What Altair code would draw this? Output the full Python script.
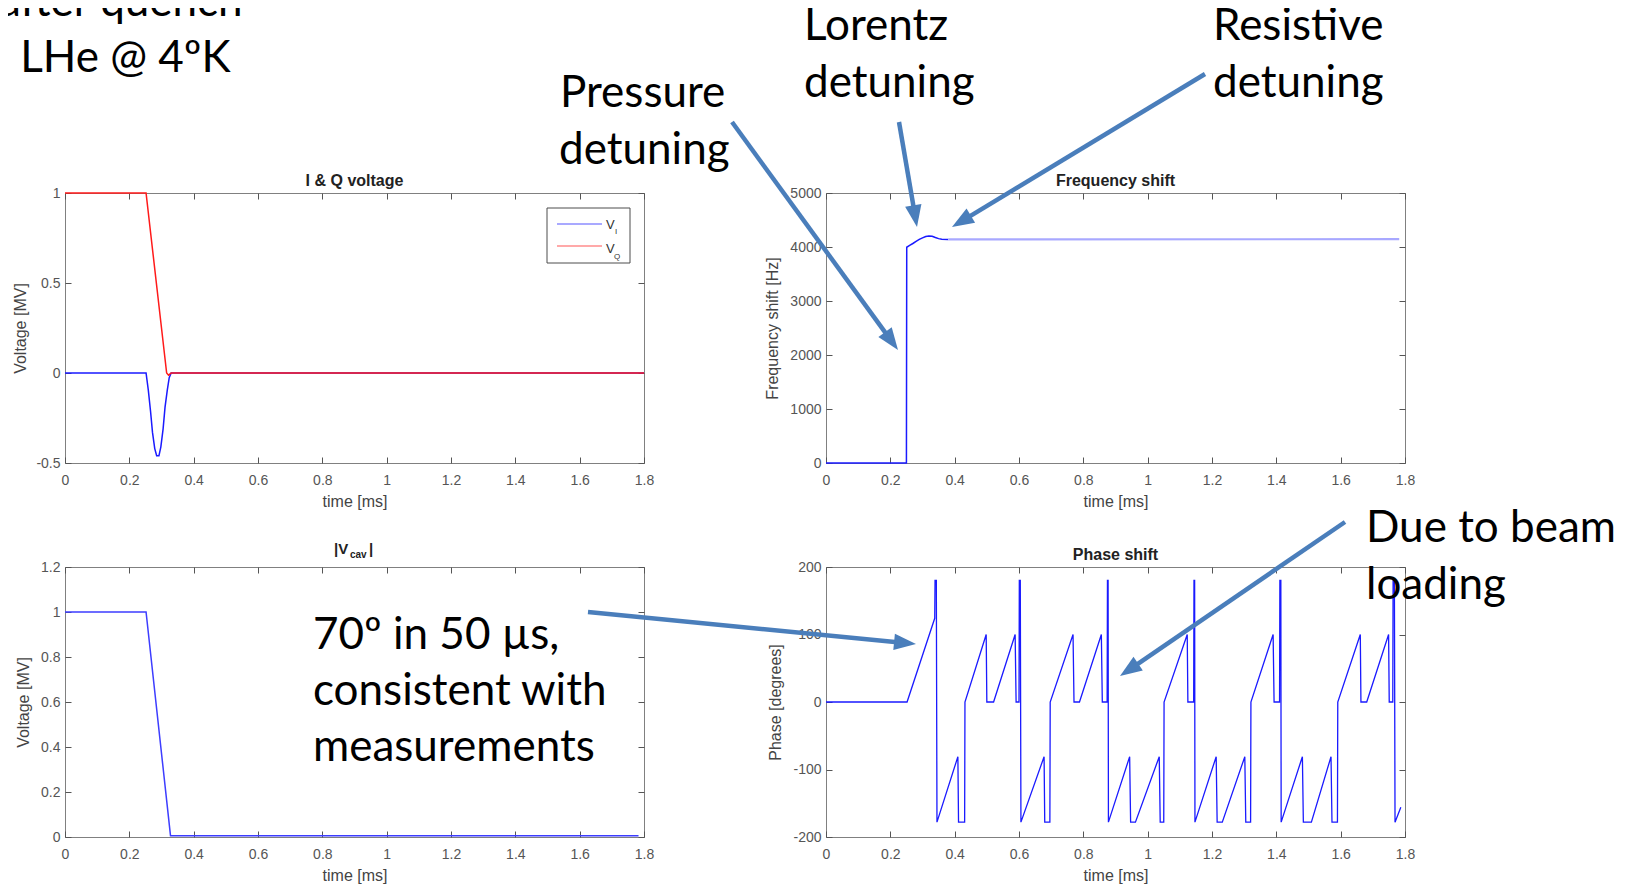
import math
import altair as alt
import pandas as pd

# ---------------- values ----------------
time_ticks = [0, 0.2, 0.4, 0.6, 0.8, 1.0, 1.2, 1.4, 1.6, 1.8]

# I & Q voltage [MV]
vi_time = [0.0, 0.252, 0.259, 0.266, 0.272, 0.279, 0.285, 0.292, 0.298, 0.305, 0.311,
           0.318, 0.324, 0.330, 1.8]
vi_volt = [0.0, 0.0, -0.095, -0.214, -0.33, -0.42, -0.46, -0.46, -0.41, -0.31, -0.19,
           -0.095, -0.026, 0.0, 0.0]
vq_time = [0.0, 0.252, 0.316, 0.322, 0.330, 1.8]
vq_volt = [1.0, 1.0, 0.0, -0.012, 0.0, 0.0]
iq_ticks = [-0.5, 0, 0.5, 1]

# Frequency shift [Hz]
freq_time = [0.0, 0.250, 0.251, 0.26, 0.27, 0.28, 0.29, 0.30, 0.31, 0.32, 0.33, 0.34, 0.35, 0.36, 0.38]
freq_hz = [0, 0, 3995, 4030, 4065, 4105, 4140, 4170, 4195, 4205, 4200, 4175, 4155, 4145, 4140]
freq_steady_time = [0.38, 1.782]
freq_steady_hz = [4140, 4145]
freq_ticks = [0, 1000, 2000, 3000, 4000, 5000]

# |Vcav| [MV]
vcav_time = [0.0, 0.252, 0.328, 1.783]
vcav_volt = [1.0, 1.0, 0.006, 0.006]
vcav_ticks = [0, 0.2, 0.4, 0.6, 0.8, 1.0, 1.2]

# Phase shift [degrees]
phase_points = [
    (0.000, 0), (0.252, 0), (0.338, 124), (0.339, 180), (0.343, 180), (0.345, -178),
    (0.410, -81), (0.412, -178), (0.431, -178), (0.432, 0), (0.498, 100), (0.500, 0),
    (0.521, 0), (0.588, 100), (0.591, 0), (0.600, 0), (0.601, 180), (0.604, 180),
    (0.606, -178), (0.678, -81), (0.680, -178), (0.696, -178), (0.697, 0), (0.768, 100),
    (0.771, 0), (0.788, 0), (0.856, 100), (0.859, 0), (0.874, 0), (0.875, 180),
    (0.877, 180), (0.878, -178), (0.944, -81), (0.947, -178), (0.962, -178), (1.036, -81),
    (1.039, -178), (1.050, -178), (1.051, 0), (1.123, 100), (1.125, 0), (1.143, 0),
    (1.144, 180), (1.146, 180), (1.147, -178), (1.213, -81), (1.216, -178), (1.232, -178),
    (1.302, -81), (1.305, -178), (1.320, -178), (1.321, 0), (1.390, 100), (1.393, 0),
    (1.410, 0), (1.411, 180), (1.414, 180), (1.415, -178), (1.481, -81), (1.484, -178),
    (1.509, -178), (1.570, -81), (1.573, -178), (1.590, -178), (1.591, 0), (1.661, 100),
    (1.663, 0), (1.681, 0), (1.749, 100), (1.751, 0), (1.762, 0), (1.763, 180),
    (1.767, 180), (1.769, -178), (1.787, -156),
]
phase_time = [p[0] for p in phase_points]
phase_deg = [p[1] for p in phase_points]
phase_ticks = [-200, -100, 0, 100, 200]

# ---------------- texts ----------------
panel_titles = {"iq": "I & Q voltage", "freq": "Frequency shift", "phase": "Phase shift"}
x_title = "time [ms]"
y_titles = {"iq": "Voltage [MV]", "freq": "Frequency shift [Hz]",
            "vcav": "Voltage [MV]", "phase": "Phase [degrees]"}

# ---------------- layout & style (not data) ----------------
PANEL_W, PANEL_H = 579, 270
ORIGIN = {"iq": (64, 192), "freq": (825, 192), "vcav": (64, 566), "phase": (825, 566)}
YDOM = {"iq": (-0.5, 1.0), "freq": (0, 5000), "vcav": (0, 1.2), "phase": (-200, 200)}
YTITLE_REL = {"iq": -45, "freq": -54, "vcav": -42, "phase": -51}
TITLE_BASE = {"iq": 185, "freq": 185, "phase": 559}
TICK = 6
AX_FONT = "Liberation Sans"
BIG_FONT = "Lato"
BIG = 44
LABEL_COLOR = "#555555"
TICK_COLOR = "#555555"
BOX = "#808080"
BLUE = "#1a1aff"
RED = "#ff1a1a"
ARROW = "#4a7ebb"
HEAD = 22
HEAD_PATH = "M0,-1L0.75,1L-0.75,1Z"
LBL_EXPR = "replace(format(datum.value, '~g'), '\u2212', '-')"

# callout texts: (panel, text, left px, baseline px)
callouts = [
    ("iq", "after quench", -2, 15),
    ("iq", ", LHe @ 4\u00baK", -2, 71),
    ("freq", "Pressure", 559, 106),
    ("freq", "detuning", 558, 163),
    ("freq", "Lorentz", 803, 39),
    ("freq", "detuning", 803, 96),
    ("freq", "Resistive", 1212, 39),
    ("freq", "detuning", 1212, 96),
    ("vcav", "70\u00ba in 50 \u00b5s,", 312, 648),
    ("vcav", "consistent with", 312, 704),
    ("vcav", "measurements", 312, 760),
    ("phase", "Due to beam", 1365, 541),
    ("phase", "loading", 1365, 598),
]
arrows = [
    ("freq", (731, 121), (897, 349)),
    ("freq", (898, 121), (916, 226)),
    ("freq", (1204, 73), (951, 226)),
    ("phase", (587, 611), (915, 643)),
    ("phase", (1344, 521), (1119, 675)),
]


def pos(key, px, py):
    ox, oy = ORIGIN[key]
    y0, y1 = YDOM[key]
    return (px - ox) / PANEL_W * 1.8, y1 - (py - oy) / PANEL_H * (y1 - y0)


def scales(key):
    xs = alt.Scale(domain=[0, 1.8], nice=False, zero=False)
    ys = alt.Scale(domain=list(YDOM[key]), nice=False, zero=False)
    return xs, ys


def series_df(ts, vs):
    return pd.DataFrame({"t": ts, "v": vs, "i": list(range(len(ts)))})


def main_axes(key, yticks):
    xa = alt.Axis(orient="bottom", values=time_ticks, title=x_title, offset=-TICK, tickSize=TICK,
                  tickColor=TICK_COLOR, domain=False, grid=False, labelExpr=LBL_EXPR,
                  labelFlush=False, labelOverlap=False, labelPadding=10, labelFont=AX_FONT,
                  labelFontSize=14, labelColor=LABEL_COLOR, titleFont=AX_FONT, titleFontSize=16,
                  titleFontWeight="normal", titleColor="#444444", titleX=PANEL_W / 2,
                  titleY=38 + TICK, titleBaseline="middle", titleAlign="center")
    ya = alt.Axis(orient="left", values=yticks, title=y_titles[key], offset=-TICK, tickSize=TICK,
                  tickColor=TICK_COLOR, domain=False, grid=False, labelExpr=LBL_EXPR,
                  labelFlush=False, labelOverlap=False, labelPadding=5, labelFont=AX_FONT,
                  labelFontSize=14, labelColor=LABEL_COLOR, titleFont=AX_FONT, titleFontSize=16,
                  titleFontWeight="normal", titleColor="#444444", titleX=YTITLE_REL[key] - TICK,
                  titleY=PANEL_H / 2, titleAngle=270, titleBaseline="middle", titleAlign="center")
    return xa, ya


def mirror_axes(yticks):
    xa = alt.Axis(orient="top", values=time_ticks, title=None, offset=-TICK, tickSize=TICK,
                  tickColor=TICK_COLOR, domain=False, grid=False, labels=False)
    ya = alt.Axis(orient="right", values=yticks, title=None, offset=-TICK, tickSize=TICK,
                  tickColor=TICK_COLOR, domain=False, grid=False, labels=False)
    return xa, ya


def line(df, color, xs, ys, axes=None, width=1.5):
    xa, ya = axes if axes else (None, None)
    return alt.Chart(df).mark_line(color=color, strokeWidth=width, clip=False).encode(
        x=alt.X("t:Q", scale=xs, axis=xa),
        y=alt.Y("v:Q", scale=ys, axis=ya),
        order=alt.Order("i:Q"),
    )


def mirror(df, xs, ys, yticks):
    xa, ya = mirror_axes(yticks)
    return alt.Chart(df).mark_line(strokeOpacity=0).encode(
        x=alt.X("t:Q", scale=xs, axis=xa), y=alt.Y("v:Q", scale=ys, axis=ya),
        order=alt.Order("i:Q"))


def text_layer(key, rows, xs, ys, font, size, weight="normal", color="black", align="left"):
    recs = []
    for txt, px, py in rows:
        x, y = pos(key, px, py)
        recs.append({"x": x, "y": y, "label": txt})
    return alt.Chart(pd.DataFrame(recs)).mark_text(
        align=align, baseline="alphabetic", font=font, fontSize=size, fontWeight=weight,
        color=color, clip=False).encode(
        x=alt.X("x:Q", scale=xs, axis=None), y=alt.Y("y:Q", scale=ys, axis=None), text="label:N")


def title_layer(key, xs, ys):
    cx = ORIGIN[key][0] + PANEL_W / 2
    return text_layer(key, [(panel_titles[key], cx, TITLE_BASE[key])], xs, ys, AX_FONT, 16,
                      "bold", "#222222", align="center")


def callout_layer(key, xs, ys):
    rows = [(t, px, py) for k, t, px, py in callouts if k == key]
    return text_layer(key, rows, xs, ys, BIG_FONT, BIG)


def arrow_layers(key, xs, ys):
    shafts, heads = [], []
    for k, (sx, sy), (tx, ty) in arrows:
        if k != key:
            continue
        dx, dy = tx - sx, ty - sy
        n = math.hypot(dx, dy)
        ux, uy = dx / n, dy / n
        cx, cy = tx - ux * HEAD / 2, ty - uy * HEAD / 2
        x0, y0 = pos(key, sx, sy)
        x1, y1 = pos(key, cx, cy)
        shafts.append({"x": x0, "y": y0, "x2": x1, "y2": y1})
        heads.append({"x": x1, "y": y1, "angle": math.degrees(math.atan2(ux, -uy)) % 360})
    shaft = alt.Chart(pd.DataFrame(shafts)).mark_rule(
        color=ARROW, strokeWidth=4.5, strokeCap="butt", clip=False).encode(
        x=alt.X("x:Q", scale=xs, axis=None), y=alt.Y("y:Q", scale=ys, axis=None),
        x2="x2:Q", y2="y2:Q")
    head = alt.Chart(pd.DataFrame(heads)).mark_point(
        shape=HEAD_PATH, filled=True, size=HEAD ** 2, color=ARROW, opacity=1, clip=False).encode(
        x=alt.X("x:Q", scale=xs, axis=None), y=alt.Y("y:Q", scale=ys, axis=None),
        angle=alt.Angle("angle:Q", scale=None))
    return [shaft, head]


def finish(layers):
    return alt.layer(*layers).resolve_axis(x="independent", y="independent").properties(
        width=PANEL_W, height=PANEL_H)


# ---- panel 1: I & Q voltage ----
xs, ys = scales("iq")
df_vi = series_df(vi_time, vi_volt)
df_vq = series_df(vq_time, vq_volt)
x1, y1 = pos("iq", 546, 207)
x2, y2 = pos("iq", 629, 262)
legend_box = alt.Chart(pd.DataFrame([{"x": x1, "x2": x2, "y": y1, "y2": y2}])).mark_rect(
    fill="white", stroke="#4d4d4d", strokeWidth=1).encode(
    x=alt.X("x:Q", scale=xs, axis=None), x2="x2:Q", y=alt.Y("y:Q", scale=ys, axis=None), y2="y2:Q")
leg_lines = []
for c, py in (("#8c8cff", 223), ("#ff8c8c", 245)):
    lx1, ly = pos("iq", 556, py)
    lx2, _ = pos("iq", 601, py)
    leg_lines.append({"x": lx1, "x2": lx2, "y": ly, "c": c})
legend_lines = alt.Chart(pd.DataFrame(leg_lines)).mark_rule(strokeWidth=1.5).encode(
    x=alt.X("x:Q", scale=xs, axis=None), x2="x2:Q", y=alt.Y("y:Q", scale=ys, axis=None),
    color=alt.Color("c:N", scale=None))
legend_v = text_layer("iq", [("V", 605, 228), ("V", 605, 252)], xs, ys, AX_FONT, 13, color="#333333")
legend_sub = text_layer("iq", [("I", 614, 233), ("Q", 613, 258)], xs, ys, AX_FONT, 8, color="#333333")
p_iq = finish([
    line(df_vi, BLUE, xs, ys, main_axes("iq", iq_ticks)),
    line(df_vq, RED, xs, ys),
    mirror(df_vi, xs, ys, iq_ticks),
    legend_box, legend_lines, legend_v, legend_sub,
    title_layer("iq", xs, ys),
    callout_layer("iq", xs, ys),
])

# ---- panel 2: frequency shift ----
xs, ys = scales("freq")
df_f = series_df(freq_time, freq_hz)
df_fs = series_df(freq_steady_time, freq_steady_hz)
p_freq = finish([
    line(df_f, BLUE, xs, ys, main_axes("freq", freq_ticks)),
    line(df_fs, "#a8a8ff", xs, ys, width=2.2),
    mirror(df_f, xs, ys, freq_ticks),
    title_layer("freq", xs, ys),
    callout_layer("freq", xs, ys),
] + arrow_layers("freq", xs, ys))

# ---- panel 3: |Vcav| ----
xs, ys = scales("vcav")
df_c = series_df(vcav_time, vcav_volt)
title_big = text_layer("vcav", [("|V", 333, 553), ("|", 368, 553)], xs, ys, AX_FONT, 15, "bold", "#222222")
title_sub = text_layer("vcav", [("cav", 349, 557)], xs, ys, AX_FONT, 10, "bold", "#222222")
p_vcav = finish([
    line(df_c, "#3d3dff", xs, ys, main_axes("vcav", vcav_ticks)),
    mirror(df_c, xs, ys, vcav_ticks),
    title_big, title_sub,
    callout_layer("vcav", xs, ys),
])

# ---- panel 4: phase shift ----
xs, ys = scales("phase")
df_p = series_df(phase_time, phase_deg)
p_phase = finish([
    line(df_p, BLUE, xs, ys, main_axes("phase", phase_ticks), width=1.3),
    mirror(df_p, xs, ys, phase_ticks),
    title_layer("phase", xs, ys),
    callout_layer("phase", xs, ys),
] + arrow_layers("phase", xs, ys))

min_left = min(px for _, _, px, _ in callouts)
top_text = min(py for _, _, _, py in callouts)
PAD_L = min_left - 8
PAD_T = top_text - round(0.8 * BIG) - 8

chart = alt.concat(
    p_iq, p_freq, p_vcav, p_phase, columns=2,
    spacing={"row": 104, "column": 182}, bounds="flush",
).properties(
    padding={"left": PAD_L, "top": PAD_T, "right": 0, "bottom": 0},
    background="white",
).configure_view(stroke=BOX, strokeWidth=1)

chart.save("out.html", embed_options={"renderer": "svg", "actions": False})
